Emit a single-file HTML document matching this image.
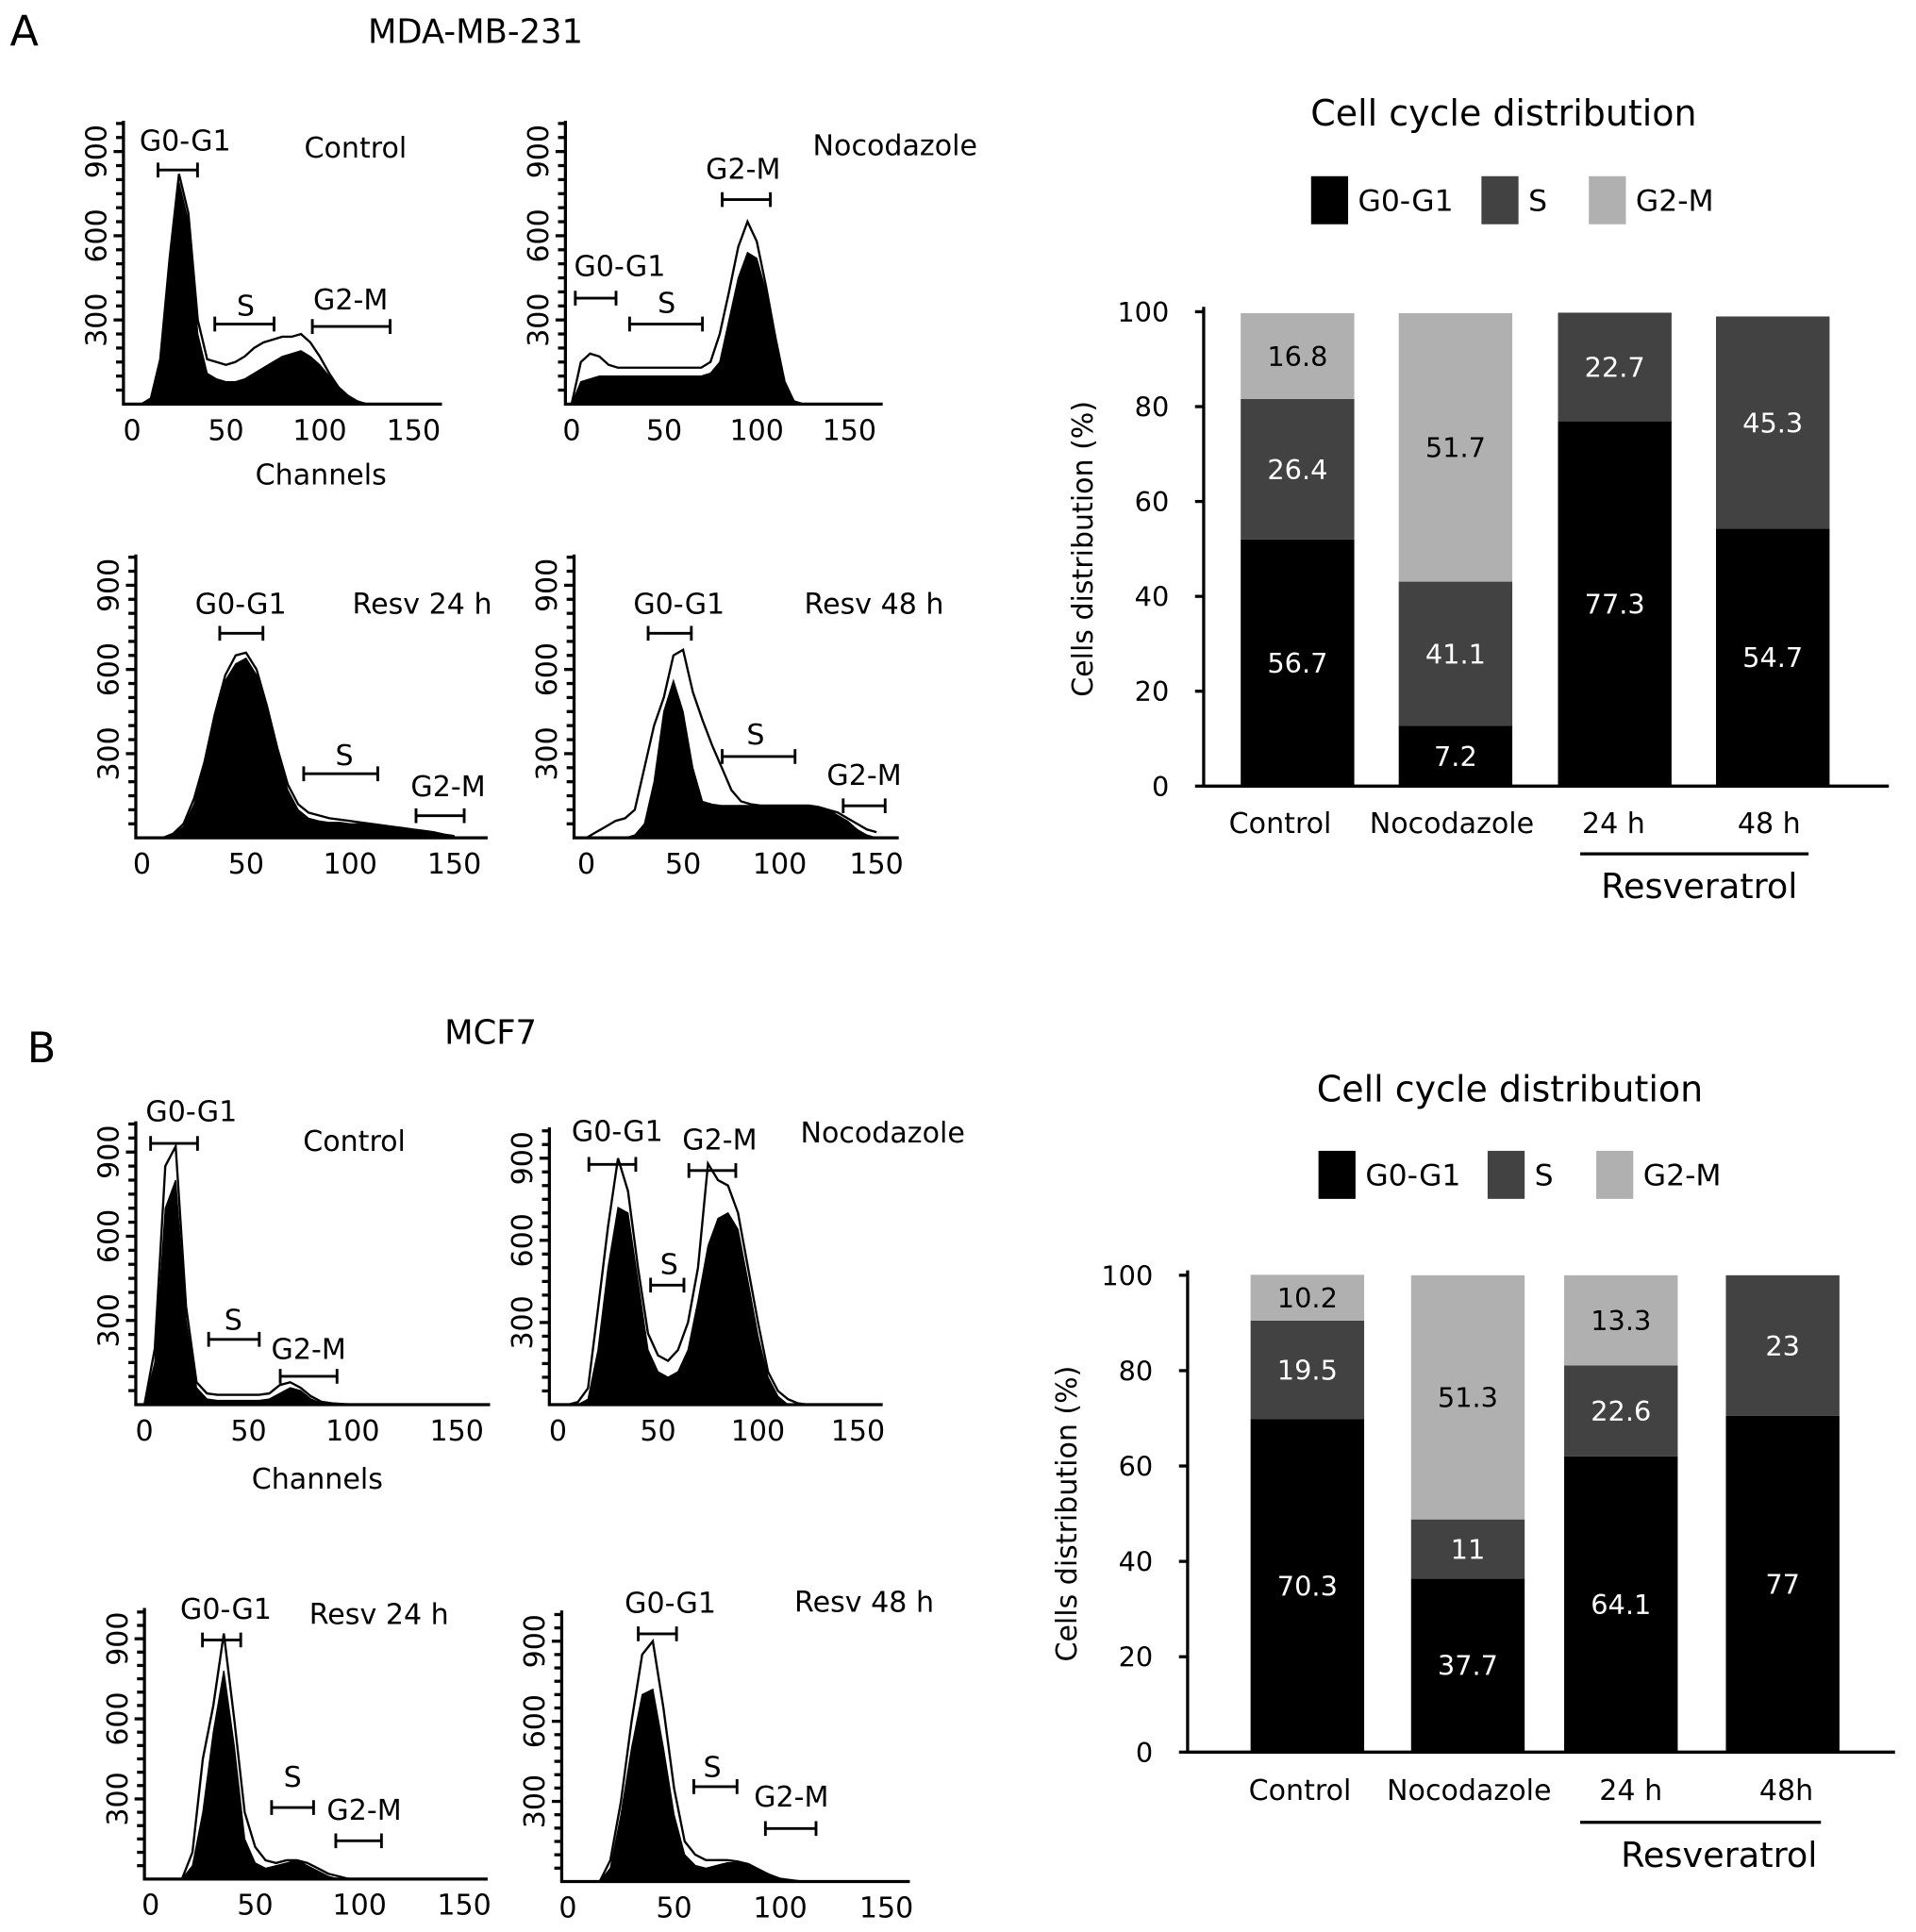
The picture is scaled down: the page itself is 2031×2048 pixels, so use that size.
<!DOCTYPE html>
<html><head><meta charset="utf-8"><style>
html,body{margin:0;padding:0;background:#fff;}
svg{display:block;font-family:"DejaVu Sans","Liberation Sans",sans-serif;}
</style></head><body>
<svg id="fig" xmlns="http://www.w3.org/2000/svg" width="2031" height="2048" viewBox="0 0 1552 1568" preserveAspectRatio="none">
<rect width="1552" height="1568" fill="#fff"/>
<text x="8" y="37" font-size="34">A</text>
<text x="298" y="35" font-size="27">MDA-MB-231</text>
<text x="22" y="862" font-size="34">B</text>
<text x="360" y="847" font-size="27">MCF7</text>
<g id="hists"></g>
<g id="bars"></g>
</svg>
<script>
// ===== Histogram data (counts at channels 0,5,10,...,150) =====
const histChannels = [0,5,10,15,20,25,30,35,40,45,50,55,60,65,70,75,80,85,90,95,100,105,110,115,120,125,130,135,140,145,150];
const xTickLabels = ["0","50","100","150"];
const xTickValues = [0,50,100,150];
const yTickLabels = ["300","600","900"];
const yTickValues = [300,600,900];

const a1Fill = [0,0,20,150,500,790,650,250,110,90,80,80,90,110,130,150,170,180,190,170,140,100,60,30,10,0,0,0,0,0,0];
const a1Line = [0,0,20,160,520,820,680,300,160,150,140,150,170,200,220,230,240,240,250,220,170,110,60,30,10,0,0,0,0,0,0];
const a2Fill = [0,80,90,100,100,100,100,100,100,100,100,100,100,100,100,110,150,300,450,540,520,400,230,80,10,0,0,0,0,0,0];
const a2Line = [0,150,180,170,140,130,130,130,130,130,130,130,130,130,130,150,250,400,560,650,580,420,240,80,10,0,0,0,0,0,0];
const a3Fill = [0,0,0,10,40,120,250,420,560,620,640,580,450,300,170,100,70,60,55,55,50,50,45,40,35,30,25,20,15,10,5];
const a3Line = [0,0,0,15,50,140,270,440,580,650,660,600,470,320,190,120,90,80,70,65,60,55,50,45,40,35,30,25,20,12,6];
const a4Fill = [0,0,0,0,0,10,50,200,450,560,450,250,130,120,115,115,115,115,115,115,115,110,110,110,110,100,80,60,30,10,0];
const a4Line = [0,20,40,60,70,100,250,400,500,650,670,520,420,330,250,170,130,120,115,115,115,115,115,115,110,100,90,70,50,30,20];
const b1Fill = [0,150,700,800,300,60,20,15,15,15,15,15,20,40,60,50,20,5,0,0,0,0,0,0,0,0,0,0,0,0,0];
const b1Line = [0,200,850,920,350,80,40,35,35,35,35,35,40,70,80,60,30,10,5,2,0,0,0,0,0,0,0,0,0,0,0];
const b2Fill = [0,0,0,20,200,500,720,700,450,200,120,100,120,200,380,580,680,700,640,450,250,100,30,0,0,0,0,0,0,0,0];
const b2Line = [0,0,10,60,350,650,900,780,500,260,180,160,200,300,500,880,820,800,700,500,300,120,50,20,5,0,0,0,0,0,0];
const b3Fill = [0,0,0,0,50,250,550,780,500,150,60,40,50,60,70,50,30,10,0,0,0,0,0,0,0,0,0,0,0,0,0];
const b3Line = [0,0,0,0,100,450,650,920,600,250,120,70,60,70,70,60,40,20,10,0,0,0,0,0,0,0,0,0,0,0,0];
const b4Fill = [0,0,0,0,50,250,500,700,720,500,250,100,60,50,60,70,70,60,40,20,5,0,0,0,0,0,0,0,0,0,0];
const b4Line = [0,0,0,0,80,300,600,850,900,650,350,150,100,80,80,80,75,65,45,25,10,5,0,0,0,0,0,0,0,0,0];

const panels = [
 {id:"a-control", fill:a1Fill, line:a1Line, ax:100, by:328, rx:358, c0:107, c150:335, h900:205},
 {id:"a-nocodazole", fill:a2Fill, line:a2Line, ax:458, by:328, rx:715, c0:463, c150:688, h900:205},
 {id:"a-resv24", fill:a3Fill, line:a3Line, ax:110, by:680, rx:395, c0:115, c150:368, h900:205},
 {id:"a-resv48", fill:a4Fill, line:a4Line, ax:465, by:680, rx:728, c0:475, c150:710, h900:205},
 {id:"b-control", fill:b1Fill, line:b1Line, ax:110, by:1140, rx:397, c0:117, c150:370, h900:205},
 {id:"b-nocodazole", fill:b2Fill, line:b2Line, ax:445, by:1140, rx:715, c0:452, c150:695, h900:200},
 {id:"b-resv24", fill:b3Fill, line:b3Line, ax:117, by:1525, rx:395, c0:122, c150:376, h900:195},
 {id:"b-resv48", fill:b4Fill, line:b4Line, ax:455, by:1527, rx:737, c0:460, c150:718, h900:195}
];
const annotations = [
 ["Control",288,128],["G0-G1",150,122],["S",199,256],["G2-M",284,251],["Channels",260,393],
 ["Nocodazole",725,126],["G2-M",602,145],["G0-G1",502,224],["S",540,254],
 ["G0-G1",195,498],["Resv 24 h",342,498],["S",279,621],["G2-M",363,646],
 ["G0-G1",550,498],["Resv 48 h",708,498],["S",612,604],["G2-M",700,637],
 ["G0-G1",155,910],["Control",287,934],["S",189,1079],["G2-M",250,1103],["Channels",257,1208],
 ["G0-G1",500,926],["G2-M",583,933],["Nocodazole",715,927],["S",542,1034],
 ["G0-G1",183,1314],["Resv 24 h",307,1318],["S",237,1450],["G2-M",295,1477],
 ["G0-G1",543,1309],["Resv 48 h",700,1308],["S",577,1442],["G2-M",641,1466]
];
const brackets = [
 [128,160,138],[174,222,263],[253,316,265],
 [585,624,162],[466,499,242],[510,569,263],
 [178,213,514],[246,306,628],[337,376,662],
 [525,560,514],[585,644,614],[683,717,654],
 [122,160,928],[169,210,1087],[227,273,1117],
 [477,515,945],[558,596,950],[527,554,1043],
 [164,195,1331],[220,254,1467],[272,309,1494],
 [517,548,1326],[562,597,1450],[620,661,1484]
];

// ===== Bar data =====
const barCategoriesA = ["Control","Nocodazole","24 h","48 h"];
const barCategoriesB = ["Control","Nocodazole","24 h","48h"];
const aG0 = [52.0,12.7,76.9,54.3];
const aS = [29.6,30.4,22.9,44.7];
const aG2 = [18.1,56.6,0,0];
const aG0Lab = ["56.7","7.2","77.3","54.7"];
const aSLab = ["26.4","41.1","22.7","45.3"];
const aG2Lab = ["16.8","51.7","",""];
const bG0 = [69.8,36.4,62.0,70.5];
const bS = [20.7,12.4,19.1,29.5];
const bG2 = [9.6,51.2,18.9,0];
const bG0Lab = ["70.3","37.7","64.1","77"];
const bSLab = ["19.5","11","22.6","23"];
const bG2Lab = ["10.2","51.3","13.3",""];
const barTicks = [0,20,40,60,80,100];

const NS="http://www.w3.org/2000/svg";
function mk(tag, parent){const e=document.createElementNS(NS,tag);parent.appendChild(e);return e;}
function txt(parent,s,x,y,size,anchor,fill){const t=mk("text",parent);t.setAttribute("x",x);t.setAttribute("y",y);t.setAttribute("font-size",size);t.setAttribute("text-anchor",anchor||"middle");if(fill)t.setAttribute("fill",fill);t.textContent=s;return t;}

const hg=document.getElementById("hists");
panels.forEach(p=>{
  const g=mk("g",hg);
  
  
  const xs=ch=>p.c0+(p.c150-p.c0)*ch/150;
  const ys=v=>p.by-v*p.h900/900;
  let d="M"+xs(0)+","+p.by;
  histChannels.forEach((c,i)=>{d+=" L"+xs(c).toFixed(1)+","+ys(p.fill[i]).toFixed(1);});
  d+=" L"+xs(150)+","+p.by+" Z";
  const f=mk("path",g);f.setAttribute("d",d);f.setAttribute("fill","#000");f.setAttribute("stroke","#000");
  
  
  let d2="";
  histChannels.forEach((c,i)=>{d2+=(i?" L":"M")+xs(c).toFixed(1)+","+ys(p.line[i]).toFixed(1);});
  const l=mk("path",g);l.setAttribute("d",d2);l.setAttribute("fill","none");l.setAttribute("stroke","#000");l.setAttribute("stroke-width","1.8");
  
  
  const ax=mk("path",g);ax.setAttribute("d","M"+p.ax+","+(p.by-p.h900-25)+" L"+p.ax+","+p.by+" L"+p.rx+","+p.by);
  ax.setAttribute("fill","none");ax.setAttribute("stroke","#000");ax.setAttribute("stroke-width","2.5");
  
  
  for(let v=50;v<=1000;v+=50){const t=mk("line",g);t.setAttribute("x1",p.ax);t.setAttribute("x2",p.ax-(v%300===0?8:6));t.setAttribute("y1",ys(v));t.setAttribute("y2",ys(v));t.setAttribute("stroke","#000");t.setAttribute("stroke-width","2.5");}
  yTickLabels.forEach((s,i)=>{const y=ys(yTickValues[i]);const t=txt(g,s,0,0,23,"middle");t.setAttribute("transform","translate("+(p.ax-14)+","+y+") rotate(-90)");
    
    });
  xTickLabels.forEach((s,i)=>{const t=txt(g,s,xs(xTickValues[i]),p.by+29,23,"middle");
    
    });
});
annotations.forEach(a=>{const t=txt(hg,a[0],a[1],a[2],23,"middle");
  
  });
brackets.forEach(b=>{const pth=mk("path",hg);pth.setAttribute("d","M"+b[0]+","+(b[2]-6)+" V"+(b[2]+6)+" M"+b[0]+","+b[2]+" H"+b[1]+" M"+b[1]+","+(b[2]-6)+" V"+(b[2]+6));
  pth.setAttribute("stroke","#000");pth.setAttribute("stroke-width","2.2");pth.setAttribute("fill","none");
  
  });

const colors=["#000","#424242","#b0b0b0"];
function barChart(cfg){
  const g=mk("g",document.getElementById("bars"));
  
  
  const ys=v=>cfg.y0-(cfg.y0-cfg.y100)*v/100;
  const tt=txt(g,"Cell cycle distribution",cfg.titleX,cfg.titleY,29,"middle");
  
  
  const leg=[["G0-G1",0],["S",1],["G2-M",2]];
  leg.forEach((L,i)=>{const r=mk("rect",g);r.setAttribute("x",cfg.legX[i]);r.setAttribute("y",cfg.legY-19);r.setAttribute("width",30);r.setAttribute("height",39);r.setAttribute("fill",colors[L[1]]);
    
    
    const t=txt(g,L[0],cfg.legX[i]+38,cfg.legY+9,24,"start");
    
    });
  const series=[cfg.g0,cfg.s,cfg.g2], labs=[cfg.g0L,cfg.sL,cfg.g2L];
  cfg.cats.forEach((c,i)=>{
    const x=cfg.barX[i];let base=0;
    series.forEach((s,k)=>{
      const v=s[i];if(v<=0)return;
      const r=mk("rect",g);r.setAttribute("x",x);r.setAttribute("y",ys(base+v));r.setAttribute("width",cfg.bw);r.setAttribute("height",ys(base)-ys(base+v));r.setAttribute("fill",colors[k]);
      
      
      if(labs[k][i]){const t=txt(g,labs[k][i],x+cfg.bw/2,(ys(base)+ys(base+v))/2+8,22,"middle",k===0||k===1?"#fff":"#000");
        
        }
      base+=v;
    });
    const t=txt(g,c,cfg.catX[i],cfg.catY,23,"middle");
    
    
  });
  const ax=mk("path",g);ax.setAttribute("d","M"+cfg.ax+","+(cfg.y100-4)+" V"+cfg.y0+" H"+cfg.rx);ax.setAttribute("stroke","#000");ax.setAttribute("stroke-width","2.5");ax.setAttribute("fill","none");
  
  
  barTicks.forEach(v=>{const l=mk("line",g);l.setAttribute("x1",cfg.ax-7);l.setAttribute("x2",cfg.ax);l.setAttribute("y1",ys(v));l.setAttribute("y2",ys(v));l.setAttribute("stroke","#000");l.setAttribute("stroke-width","2.5");
    const t=txt(g,String(v),cfg.ax-28,ys(v)+8,22,"end");
    
    });
  const yl=txt(g,"Cells distribution (%)",0,0,23,"middle");yl.setAttribute("transform","translate("+(cfg.ax-90)+","+((cfg.y0+cfg.y100)/2)+") rotate(-90)");
  
  
  const rl=mk("line",g);rl.setAttribute("x1",cfg.resX1);rl.setAttribute("x2",cfg.resX2);rl.setAttribute("y1",cfg.resY);rl.setAttribute("y2",cfg.resY);rl.setAttribute("stroke","#000");rl.setAttribute("stroke-width","2.5");
  
  
  const rt=txt(g,"Resveratrol",(cfg.resX1+cfg.resX2)/2+(cfg.resShift||0),cfg.resY+36,28,"middle");
  
  
}
barChart({name:"bar-chart-a",y0:638,y100:253,ax:975,rx:1530,bw:92,barX:[1005,1133,1262,1390],cats:barCategoriesA,catX:[1037,1176,1307,1433],catY:676,
  g0:aG0,s:aS,g2:aG2,g0L:aG0Lab,sL:aSLab,g2L:aG2Lab,titleX:1218,titleY:102,legX:[1062,1200,1287],legY:162,resX1:1280,resX2:1465,resY:693,resShift:4});
barChart({name:"bar-chart-b",y0:1422,y100:1035,ax:962,rx:1535,bw:92,barX:[1013,1143,1267,1398],cats:barCategoriesB,catX:[1053,1190,1321,1447],catY:1461,
  g0:bG0,s:bS,g2:bG2,g0L:bG0Lab,sL:bSLab,g2L:bG2Lab,titleX:1223,titleY:894,legX:[1068,1205,1293],legY:953,resX1:1280,resX2:1475,resY:1479,resShift:15});
</script>
</body></html>
